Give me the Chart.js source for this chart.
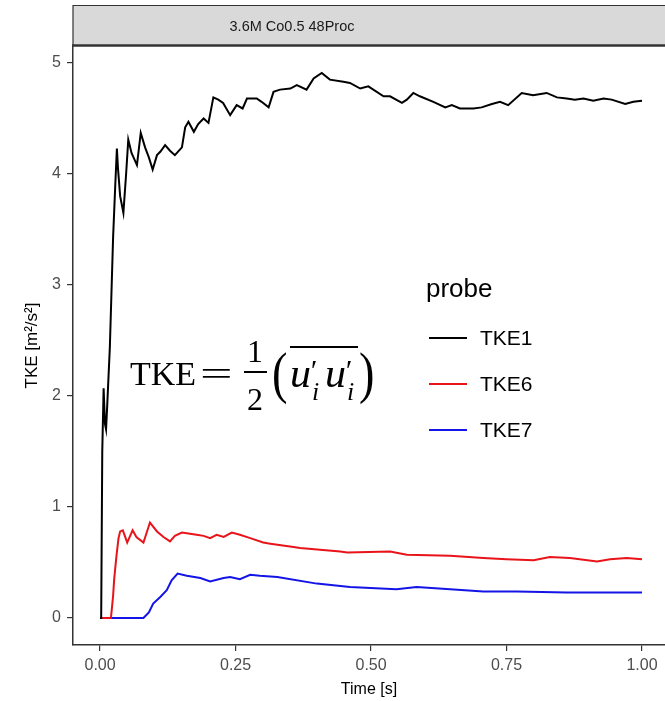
<!DOCTYPE html>
<html>
<head>
<meta charset="utf-8">
<script src="https://cdn.jsdelivr.net/npm/chart.js@4.4.1/dist/chart.umd.min.js"></script>
<style>
html,body{margin:0;padding:0;background:#fff;overflow:hidden;}
canvas{display:block;}
</style>
</head>
<body>
<canvas id="c" width="665" height="701"></canvas>
<script>
// ---- data ----
const panelTitle = "3.6M Co0.5 48Proc";
const seriesNames = ["TKE1", "TKE6", "TKE7"];
const xTickValues = [0, 0.25, 0.5, 0.75, 1.0];
const xTickLabels = ["0.00", "0.25", "0.50", "0.75", "1.00"];
const yTickValues = [0, 1, 2, 3, 4, 5];
const yTickLabels = ["0", "1", "2", "3", "4", "5"];

const tke1Time = [0.000,0.002,0.004,0.0065,0.009,0.011,0.013,0.018,0.024,0.028,0.031,0.033,0.037,0.043,0.048,0.052,0.058,0.068,0.075,0.083,0.090,0.097,0.105,0.111,0.120,0.129,0.138,0.151,0.157,0.163,0.173,0.181,0.191,0.200,0.209,0.218,0.227,0.240,0.252,0.263,0.271,0.289,0.298,0.311,0.320,0.332,0.351,0.363,0.381,0.394,0.409,0.424,0.449,0.461,0.480,0.495,0.523,0.535,0.557,0.566,0.578,0.590,0.615,0.637,0.649,0.664,0.689,0.704,0.723,0.738,0.753,0.778,0.799,0.824,0.843,0.861,0.876,0.892,0.910,0.929,0.944,0.969,0.984,1.000];
const tke1Value = [0.00,0.00,1.50,2.07,1.75,1.70,1.90,2.44,3.43,3.90,4.23,4.05,3.80,3.65,4.00,4.31,4.19,4.08,4.37,4.24,4.15,4.04,4.17,4.20,4.26,4.21,4.17,4.24,4.42,4.47,4.38,4.45,4.50,4.46,4.69,4.67,4.64,4.53,4.62,4.59,4.68,4.68,4.65,4.60,4.74,4.76,4.77,4.80,4.76,4.86,4.91,4.85,4.83,4.82,4.77,4.79,4.70,4.70,4.64,4.67,4.73,4.70,4.65,4.60,4.62,4.59,4.59,4.60,4.63,4.65,4.62,4.73,4.71,4.73,4.69,4.68,4.67,4.68,4.66,4.68,4.67,4.63,4.65,4.66];

const tke6Time = [0.000,0.020,0.024,0.026,0.030,0.034,0.037,0.042,0.050,0.060,0.067,0.080,0.092,0.105,0.117,0.129,0.138,0.151,0.166,0.178,0.191,0.203,0.215,0.228,0.243,0.258,0.277,0.301,0.314,0.357,0.369,0.443,0.456,0.535,0.566,0.646,0.707,0.750,0.800,0.830,0.867,0.917,0.941,0.972,1.000];
const tke6Value = [0.00,0.00,0.20,0.35,0.55,0.72,0.78,0.79,0.68,0.79,0.73,0.68,0.86,0.78,0.73,0.69,0.74,0.77,0.76,0.75,0.74,0.72,0.75,0.73,0.77,0.75,0.72,0.68,0.67,0.64,0.63,0.60,0.59,0.60,0.57,0.56,0.54,0.53,0.52,0.55,0.54,0.51,0.53,0.54,0.53];

const tke7Time = [0.000,0.080,0.090,0.098,0.111,0.123,0.132,0.143,0.160,0.185,0.203,0.228,0.240,0.258,0.277,0.295,0.327,0.400,0.461,0.547,0.584,0.646,0.707,0.769,0.861,1.000];
const tke7Value = [0.00,0.00,0.05,0.13,0.19,0.25,0.34,0.40,0.38,0.36,0.33,0.36,0.37,0.35,0.39,0.38,0.37,0.31,0.28,0.26,0.28,0.26,0.24,0.24,0.23,0.23];

// ---- styles ----
const seriesColors = ["#000000", "#e8141a", "#1414e6"];
const tickColor = "#4d4d4d";
const axisLineColor = "#333333";

function toPoints(xs, ys) { return xs.map((x, i) => ({x: x, y: ys[i]})); }

const stripPlugin = {
  id: 'strip',
  afterDraw(chart) {
    const ctx = chart.ctx;
    const a = chart.chartArea;
    ctx.save();
    // facet strip
    ctx.fillStyle = '#d9d9d9';
    ctx.fillRect(a.left, 5, 700, 40);
    ctx.strokeStyle = axisLineColor;
    ctx.lineWidth = 1.2;
    ctx.beginPath();
    ctx.moveTo(a.left, 45); ctx.lineTo(a.left, 5.5); ctx.lineTo(700, 5.5);
    ctx.stroke();
    ctx.lineWidth = 2.5;
    ctx.beginPath();
    ctx.moveTo(a.left - 1, 45.5); ctx.lineTo(700, 45.5);
    ctx.stroke();
    ctx.fillStyle = '#1a1a1a';
    ctx.font = '14.5px "Liberation Sans", Arial, sans-serif';
    ctx.textAlign = 'center';
    ctx.textBaseline = 'middle';
    ctx.fillText(panelTitle, 292, 27);

    // legend
    ctx.textAlign = 'left';
    ctx.textBaseline = 'alphabetic';
    ctx.fillStyle = '#000';
    ctx.font = '26px "Liberation Sans", Arial, sans-serif';
    ctx.fillText('probe', 426, 297);
    const ly = [338, 384, 430];
    ctx.font = '21px "Liberation Sans", Arial, sans-serif';
    ctx.textBaseline = 'middle';
    for (let i = 0; i < seriesNames.length; i++) {
      ctx.strokeStyle = seriesColors[i];
      ctx.lineWidth = 2;
      ctx.beginPath();
      ctx.moveTo(429, ly[i]); ctx.lineTo(467, ly[i]);
      ctx.stroke();
      ctx.fillStyle = '#000';
      ctx.fillText(seriesNames[i], 480, ly[i] + 1);
    }

    // formula TKE = 1/2 ( overline{u'_i u'_i} )
    ctx.fillStyle = '#000';
    ctx.strokeStyle = '#000';
    ctx.textBaseline = 'alphabetic';
    ctx.textAlign = 'left';
    ctx.font = '34px "Liberation Serif", "DejaVu Serif", serif';
    ctx.fillText('TKE', 130, 385);
    ctx.save();
    ctx.translate(200, 385);
    ctx.scale(1.7, 1);
    ctx.fillText('=', 0, 0);
    ctx.restore();
    ctx.textAlign = 'center';
    ctx.font = '32px "Liberation Serif", "DejaVu Serif", serif';
    ctx.fillText('1', 255, 362);
    ctx.fillText('2', 255, 410);
    ctx.lineWidth = 2;
    ctx.beginPath(); ctx.moveTo(244, 372); ctx.lineTo(267, 372); ctx.stroke();
    ctx.textAlign = 'left';
    ctx.save();
    ctx.font = '58px "Liberation Serif", "DejaVu Serif", serif';
    ctx.translate(272, 392); ctx.scale(0.8, 1); ctx.fillText('(', 0, 0);
    ctx.restore();
    ctx.save();
    ctx.font = '58px "Liberation Serif", "DejaVu Serif", serif';
    ctx.translate(359, 392); ctx.scale(0.8, 1); ctx.fillText(')', 0, 0);
    ctx.restore();
    ctx.beginPath(); ctx.moveTo(290, 347); ctx.lineTo(358, 347); ctx.stroke();
    ctx.font = 'italic 42px "Liberation Serif", "DejaVu Serif", serif';
    ctx.fillText('u', 290, 387);
    ctx.fillText('u', 325, 387);
    ctx.font = 'italic 30px "Liberation Serif", "DejaVu Serif", serif';
    ctx.fillText('\u2032', 309, 380);
    ctx.fillText('\u2032', 344, 380);
    ctx.font = 'italic 26px "Liberation Serif", "DejaVu Serif", serif';
    ctx.fillText('i', 312, 400);
    ctx.fillText('i', 347, 400);
    ctx.restore();
  }
};

new Chart(document.getElementById('c'), {
  type: 'line',
  data: {
    datasets: [
      {label: seriesNames[0], data: toPoints(tke1Time, tke1Value), borderColor: seriesColors[0]},
      {label: seriesNames[1], data: toPoints(tke6Time, tke6Value), borderColor: seriesColors[1]},
      {label: seriesNames[2], data: toPoints(tke7Time, tke7Value), borderColor: seriesColors[2]}
    ]
  },
  options: {
    responsive: false,
    animation: false,
    devicePixelRatio: 1,
    layout: {padding: {left: 0, right: 0, top: 46, bottom: 0}},
    elements: {
      line: {borderWidth: 2, tension: 0, fill: false},
      point: {radius: 0}
    },
    plugins: {legend: {display: false}, tooltip: {enabled: false}},
    scales: {
      x: {
        type: 'linear',
        min: -0.05, max: 1.0424,
        afterBuildTicks(s) { s.ticks = xTickValues.map(v => ({value: v})); },
        afterFit(s) { s.height = 56; },
        ticks: {
          color: tickColor, padding: 5, maxRotation: 0, autoSkip: false,
          font: {family: '"Liberation Sans", Arial, sans-serif', size: 16},
          callback: (v) => xTickLabels[xTickValues.indexOf(v)]
        },
        grid: {drawOnChartArea: false, drawTicks: true, tickLength: 6, color: axisLineColor, lineWidth: 1.2},
        border: {display: true, color: axisLineColor, width: 1.5},
        title: {display: true, text: 'Time [s]', color: '#000', padding: {top: 0, bottom: 2},
          font: {family: '"Liberation Sans", Arial, sans-serif', size: 16}}
      },
      y: {
        type: 'linear',
        min: -0.243, max: 5.153,
        afterBuildTicks(s) { s.ticks = yTickValues.map(v => ({value: v})); },
        afterFit(s) { s.width = 73; },
        ticks: {
          color: tickColor, padding: 6, autoSkip: false,
          font: {family: '"Liberation Sans", Arial, sans-serif', size: 16},
          callback: (v) => yTickLabels[yTickValues.indexOf(v)]
        },
        grid: {drawOnChartArea: false, drawTicks: true, tickLength: 6, color: axisLineColor, lineWidth: 1.2},
        border: {display: true, color: axisLineColor, width: 1.5},
        title: {display: true, text: 'TKE [m\u00b2/s\u00b2]', color: '#000', padding: {top: 22, bottom: 0},
          font: {family: '"Liberation Sans", Arial, sans-serif', size: 17}}
      }
    }
  },
  plugins: [stripPlugin]
});
</script>
</body>
</html>
